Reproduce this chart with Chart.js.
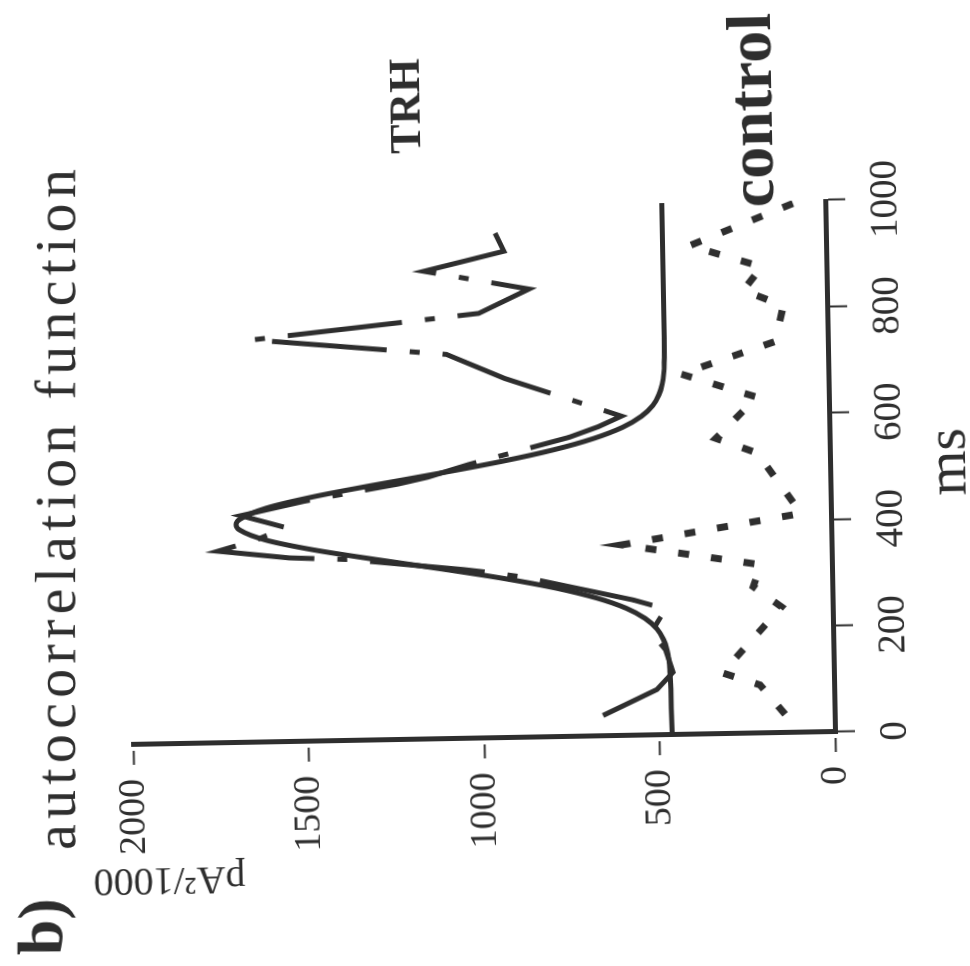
<!DOCTYPE html>
<html>
<head>
<meta charset="utf-8">
<title>autocorrelation function</title>
<script src="https://cdn.jsdelivr.net/npm/chart.js@4.4.1/dist/chart.umd.min.js"></script>
<style>
  html, body { margin: 0; padding: 0; background: #fff; overflow: hidden; width: 970px; height: 966px; }
  /* the figure is printed sideways (and a hair crooked) on the page */
  #sheet {
    position: absolute; left: 599px; top: -102px;
    width: 970px; height: 980px;
    transform-origin: 236px 834px;
    transform: rotate(-91.05deg);
  }
</style>
</head>
<body>
<div id="sheet"><canvas id="acf" width="970" height="980"></canvas></div>
<script>
// ------------------------------------------------------------
//  data  (lag in ms, value in pA^2/1000)
// ------------------------------------------------------------
const msTicks  = [0, 200, 400, 600, 800, 1000];
const valTicks = [0, 500, 1000, 1500, 2000];

// smooth fitted curve
const fitMs  = [0, 50, 100, 120, 140, 160, 180, 200, 220, 240, 260, 280, 300, 320, 340, 360, 380, 400, 410,
                420, 440, 460, 480, 500, 520, 540, 560, 580, 600, 620, 640, 660, 680, 700, 750, 800, 900, 1000];
const fitVal = [464, 465, 466, 467, 469, 474, 484, 502, 535, 589, 672, 787, 936, 1112, 1299, 1474, 1610, 1685, 1695,
                1685, 1610, 1474, 1299, 1112, 936, 787, 672, 589, 535, 502, 484, 474, 469, 467, 466, 466, 466, 466];

// TRH (dash-dot)
const trhMs  = [39, 86, 118, 160, 194, 237, 255, 302, 312, 318, 341, 346, 361, 381, 403, 427, 452, 481, 493,
                515, 563, 582, 601, 676, 723, 757, 799, 843, 880, 915, 961, 985];
const trhVal = [660, 505, 458, 478, 518, 476, 567, 881, 980, 1049, 1379, 1546, 1748, 1639, 1553, 1681, 1500, 1232, 1146,
                1031, 742, 658, 592, 923, 1087, 1640, 993, 849, 1147, 918, 951, 968];

// control (dotted)
const ctrlMs  = [35, 91, 115, 237, 276, 317, 359, 412, 527, 556, 632, 678, 736, 803, 833, 877, 919, 1000];
const ctrlVal = [141, 211, 318, 146, 225, 203, 598, 85, 207, 324, 205, 420, 150, 125, 238, 185, 389, 72];

// ------------------------------------------------------------
//  look
// ------------------------------------------------------------
const INK   = '#2e2e2e';
const SERIF = '"Liberation Serif", "Times New Roman", serif';
const TILT  = 1.05 * Math.PI / 180;   // title is straight on the page, plot is not

function pts(xs, ys) {
  return xs.map((x, i) => ({ x, y: ys[i] }));
}

// texts that are not tick labels
const figureText = {
  id: 'figureText',
  afterDraw(chart) {
    const c = chart.ctx;
    c.save();
    c.fillStyle = INK;
    c.textBaseline = 'alphabetic';
    c.textAlign = 'left';

    // panel letter
    c.save();
    c.translate(27, 57);
    c.rotate(TILT);
    c.font = 'bold 64px ' + SERIF;
    c.fillText('b)', 0, 0);
    c.restore();

    // title, spread out like the original
    c.save();
    c.translate(132, 72);
    c.rotate(TILT);
    c.font = '58px ' + SERIF;
    const title = 'autocorrelation function';
    const natural = c.measureText(title).width;
    c.letterSpacing = ((680 - natural) / (title.length - 1)).toFixed(1) + 'px';
    c.fillText(title, 0, 0);
    c.letterSpacing = '0px';
    c.restore();

    // y axis title
    c.save();
    c.translate(112, 242);
    c.rotate(-Math.PI / 2);
    c.font = '40px ' + SERIF;
    c.fillText('pA²/1000', 0, 0);
    c.restore();

    // x axis title
    c.font = '58px ' + SERIF;
    c.textAlign = 'center';
    c.fillText('ms', 504, 969);

    // series labels
    c.textAlign = 'left';
    c.font = 'bold 44px ' + SERIF;
    c.fillText('TRH', 822, 430);
    c.font = 'bold 64px ' + SERIF;
    c.fillText('control', 762, 782);

    c.restore();
  }
};

new Chart(document.getElementById('acf'), {
  type: 'line',
  data: {
    datasets: [
      {
        label: 'fit',
        data: pts(fitMs, fitVal),
        borderColor: INK,
        borderWidth: 5,
        pointRadius: 0,
        tension: 0.4,
        cubicInterpolationMode: 'monotone'
      },
      {
        label: 'TRH',
        data: pts(trhMs, trhVal),
        borderColor: INK,
        borderWidth: 5,
        borderDash: [115, 23, 10, 23],
        borderCapStyle: 'butt',
        borderJoinStyle: 'miter',
        pointRadius: 0,
        tension: 0
      },
      {
        label: 'control',
        data: pts(ctrlMs, ctrlVal),
        borderColor: INK,
        borderWidth: 7,
        borderDash: [11, 22],
        borderCapStyle: 'butt',
        pointRadius: 0,
        tension: 0
      }
    ]
  },
  options: {
    responsive: false,
    animation: false,
    devicePixelRatio: 1,
    layout: { padding: { left: 100, right: 202, top: 132, bottom: 0 } },
    plugins: {
      legend:  { display: false },
      tooltip: { enabled: false },
      title:   { display: false }
    },
    scales: {
      x: {
        type: 'linear',
        position: 'bottom',
        min: 0,
        max: 1000,
        afterBuildTicks: s => { s.ticks = msTicks.map(v => ({ value: v })); },
        afterFit: s => { s.height = 146; },
        ticks: {
          autoSkip: false,
          maxRotation: 0,
          padding: 17,
          color: INK,
          font: { family: SERIF, size: 39 },
          callback: v => String(v)
        },
        grid: {
          drawOnChartArea: false,
          drawTicks: true,
          tickLength: 20,
          tickWidth: 2,
          tickColor: INK
        },
        border: { display: true, width: 5, color: INK }
      },
      y: {
        type: 'linear',
        position: 'left',
        min: 0,
        max: 2000,
        afterBuildTicks: s => { s.ticks = valTicks.map(v => ({ value: v })); },
        afterFit: s => { s.width = 136; },
        ticks: {
          autoSkip: false,
          padding: 14,
          color: INK,
          font: { family: SERIF, size: 38 },
          callback: v => String(v)
        },
        grid: {
          drawOnChartArea: false,
          drawTicks: true,
          tickLength: 20,
          tickWidth: 2,
          tickColor: INK,
          tickBorderDash: [14, 6]
        },
        border: { display: true, width: 5, color: INK }
      }
    }
  },
  plugins: [figureText]
});
</script>
</body>
</html>
